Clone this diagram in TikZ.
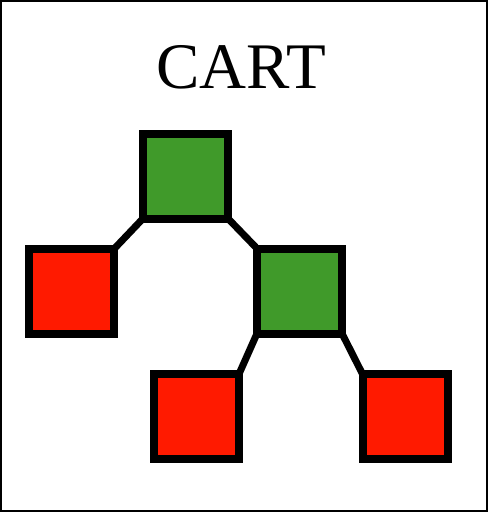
\documentclass[tikz,border=0pt]{standalone}
\usepackage{fontspec}
\setmainfont{Liberation Serif}
\usetikzlibrary{backgrounds}
\definecolor{leafred}{RGB}{255,26,0}
\definecolor{splitgreen}{RGB}{64,154,42}
\begin{document}
\begin{tikzpicture}[x=1pt,y=-1pt,
  box/.style={draw=black,line width=8pt,minimum width=85pt,minimum height=85pt,inner sep=0pt,outer sep=0pt},
  split/.style={box,fill=splitgreen},
  leaf/.style={box,fill=leafred},
  edge/.style={line width=7pt,draw=black}]
\useasboundingbox (0,0) rectangle (488,512);
\draw[line width=2pt] (1,1) rectangle (487,511);
\node[anchor=base,font=\fontsize{65}{70}\selectfont] (title) at (241,88) {CART};
\node[split] (root) at (185.5,176) {};
\node[leaf] (l1) at (71.5,291.5) {};
\node[split] (n2) at (299.5,291) {};
\node[leaf] (l2) at (196.5,416.5) {};
\node[leaf] (l3) at (405,416.5) {};
\begin{scope}[on background layer]
\draw[edge] (root.south west) -- (l1.north east);
\draw[edge] (root.south east) -- (n2.north west);
\draw[edge] (n2.south west) -- (l2.north east);
\draw[edge] (n2.south east) -- (l3.north west);
\end{scope}
\end{tikzpicture}
\end{document}
